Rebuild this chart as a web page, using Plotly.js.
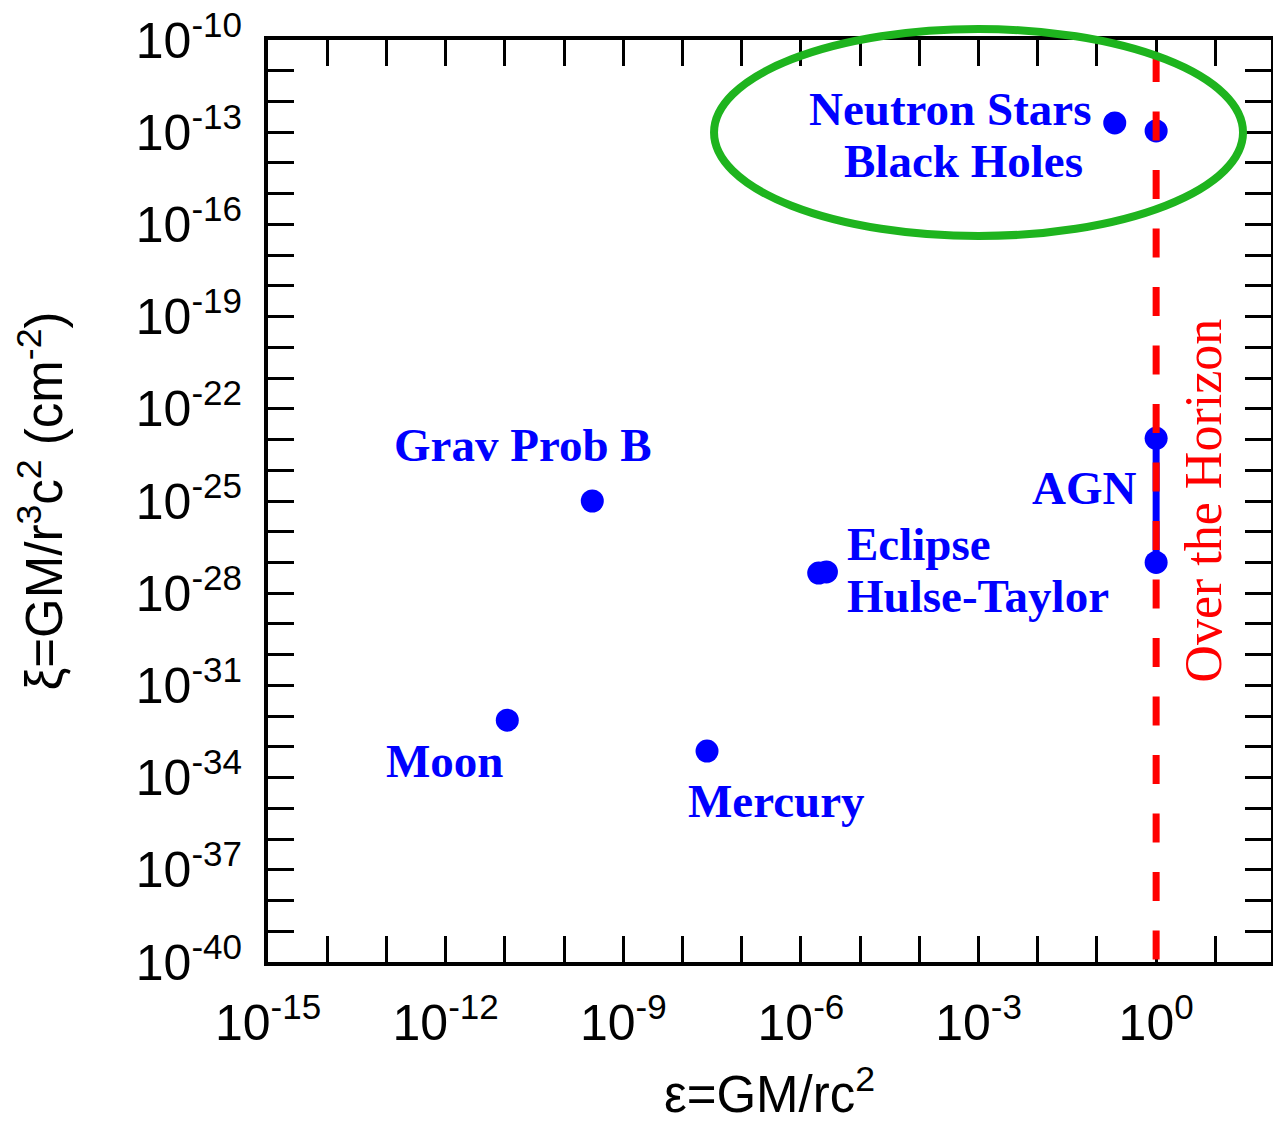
<!DOCTYPE html>
<html><head><meta charset="utf-8">
<script src="https://cdn.plot.ly/plotly-3.0.1.min.js"></script>
<style>html,body{margin:0;padding:0;background:#fff;} #chart{width:1273px;height:1123px;}</style>
</head><body><div id="chart"></div>
<script>
// ---- data ----
const objectNames   = ['Moon', 'Mercury', 'Grav Prob B', 'Eclipse', 'Hulse-Taylor', 'Neutron Stars', 'Black Holes', 'AGN (upper)', 'AGN (lower)'];
const epsilonValues = [1.1e-11, 2.6e-8, 3.0e-10, 2.0e-6, 2.7e-6, 0.2, 1.0, 1.0, 1.0];
const xiValues      = [7.4e-33, 7.3e-34, 1.0e-25, 4.5e-28, 4.9e-28, 2.0e-13, 1.1e-13, 1.1e-23, 1.0e-27];
const agnEpsilon    = [1.0, 1.0];
const agnXi         = [1.1e-23, 1.0e-27];
const horizonEpsilon = 1.0;
const horizonLabel   = 'Over the Horizon';

// label texts and which point each belongs to
const labelTexts  = ['Moon', 'Mercury', 'Grav Prob B', 'Eclipse', 'Hulse-Taylor', 'Neutron Stars', 'Black Holes', 'AGN'];
const labelPoint  = [0, 1, 2, 3, 4, 5, 6, 7];

// axis decades and labelled decades
const xDecades  = [-15,-14,-13,-12,-11,-10,-9,-8,-7,-6,-5,-4,-3,-2,-1,0,1];
const xLabelled = [-15,-12,-9,-6,-3,0];
const yDecades  = [-40,-39,-38,-37,-36,-35,-34,-33,-32,-31,-30,-29,-28,-27,-26,-25,-24,-23,-22,-21,-20,-19,-18,-17,-16,-15,-14,-13,-12,-11,-10];
const yLabelled = [-40,-37,-34,-31,-28,-25,-22,-19,-16,-13,-10];

const xTitle = 'ε=GM/rc<sup>2</sup>';
const yTitle = 'ξ=GM/r<sup>3</sup>c<sup>2</sup> (cm<sup>-2</sup>)';

// ---- styling / placement (not data) ----
const labelStyle = [ // [xanchor, xshift, yshift]
  ['left', -123, -40.5],
  ['left', -21, -50],
  ['left', -200, 56],
  ['left', 26, 29],
  ['left', 19, -24],
  ['right', -22, 14],
  ['right', -71, -30],
  ['right', -17, -50]
];

const BLUE = '#0000ff', RED = '#ff0000', GREEN = '#1eb41e';
const sansFont = 'Liberation Sans, Arial, Helvetica, sans-serif';
const serifFont = 'Liberation Serif, Times New Roman, serif';

function tickText(decades, labelled) {
  return decades.map(d => labelled.includes(d) ? '10<sup>' + (d < 0 ? '-' + Math.abs(d) : d) + '</sup>' : '');
}

const traces = [
  {
    type: 'scatter', mode: 'lines', x: agnEpsilon, y: agnXi,
    line: {color: BLUE, width: 7}, hoverinfo: 'skip'
  },
  {
    type: 'scatter', mode: 'markers', x: epsilonValues, y: xiValues, text: objectNames,
    marker: {color: BLUE, size: 23, line: {width: 0}}
  }
];

const annotations = labelTexts.map((t, i) => {
  const p = labelPoint[i];
  const s = labelStyle[i];
  return {
    text: t, xref: 'x', yref: 'y',
    x: Math.log10(epsilonValues[p]), y: Math.log10(xiValues[p]),
    xanchor: s[0], yanchor: 'middle', xshift: s[1], yshift: s[2],
    showarrow: false,
    font: {family: serifFont, size: 47, color: BLUE, weight: 'bold'}
  };
});
annotations.push({
  text: horizonLabel, xref: 'x', yref: 'paper',
  x: Math.log10(horizonEpsilon), y: 0.5, xshift: 46.5,
  xanchor: 'center', yanchor: 'middle', textangle: -90, showarrow: false,
  font: {family: serifFont, size: 52, color: RED}
});

const yTopLog = -10 + 1.48, yBotLog = -41;
const shapes = [
  {
    type: 'line', xref: 'x', yref: 'y', layer: 'above',
    x0: horizonEpsilon, x1: horizonEpsilon,
    y0: Math.pow(10, yTopLog), y1: Math.pow(10, yBotLog),
    line: {color: RED, width: 7, dash: '29px,29.5px'}
  },
  {
    type: 'circle', xref: 'paper', yref: 'paper', layer: 'above',
    x0: 0.4447, x1: 0.9721, y0: 0.7874, y1: 1.0119,
    line: {color: GREEN, width: 8}
  }
];

const axisCommon = {
  type: 'log', tickmode: 'array', ticks: 'inside', ticklen: 26, tickwidth: 3, tickcolor: '#000',
  showline: true, linewidth: 4, linecolor: '#000', mirror: 'ticks',
  showgrid: false, zeroline: false,
  tickfont: {family: sansFont, size: 50, color: '#000'}
};

const layout = {
  width: 1273, height: 1123,
  margin: {l: 268, r: 2, t: 40, b: 161},
  paper_bgcolor: '#ffffff', plot_bgcolor: '#ffffff',
  showlegend: false,
  xaxis: Object.assign({}, axisCommon, {
    range: [-15, 1.94],
    tickvals: xDecades.map(d => Math.pow(10, d)),
    ticktext: tickText(xDecades, xLabelled),
    ticklabelstandoff: 14,
    title: {text: xTitle, font: {family: sansFont, size: 51, color: '#000'}, standoff: 30}
  }),
  yaxis: Object.assign({}, axisCommon, {
    range: [-40, -10],
    tickvals: yDecades.map(d => Math.pow(10, d)),
    ticktext: tickText(yDecades, yLabelled),
    ticklabelstandoff: 12,
    title: {text: yTitle, font: {family: sansFont, size: 51, color: '#000'}, standoff: 58}
  }),
  annotations: annotations,
  shapes: shapes
};

Plotly.newPlot('chart', traces, layout, {displayModeBar: false, staticPlot: true});
</script>
</body></html>
